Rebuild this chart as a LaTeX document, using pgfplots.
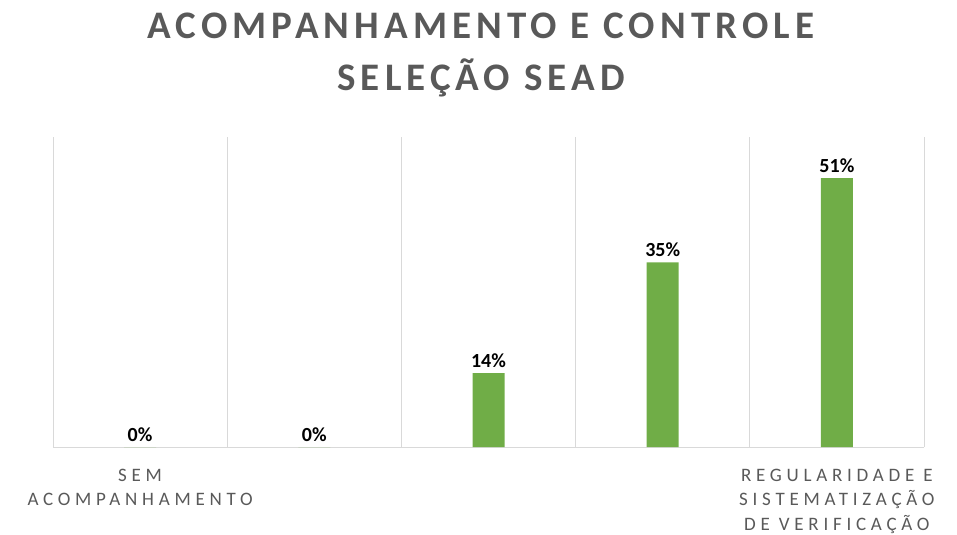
\documentclass[border=0pt]{standalone}
\usepackage{pgfplots}
\pgfplotsset{compat=1.18}
\usepackage{fontspec}
\setmainfont{Carlito}
\newfontfamily\titlefont[LetterSpace=13]{Carlito}
\newfontfamily\labfont[LetterSpace=25]{Carlito}
\definecolor{bargreen}{HTML}{70AD47}
\definecolor{txtgray}{HTML}{595959}
\definecolor{gridgray}{HTML}{D9D9D9}

\begin{document}
\begin{tikzpicture}
\useasboundingbox (0,0) rectangle (957bp,-535bp);
% chart title, two lines
\node[anchor=base, inner sep=0pt, text=txtgray,
      font=\titlefont\bfseries\fontsize{39bp}{52bp}\selectfont]
  at (481bp,-38bp) {ACOMPANHAMENTO E CONTROLE};
\node[anchor=base, inner sep=0pt, text=txtgray,
      font=\titlefont\bfseries\fontsize{39bp}{52bp}\selectfont]
  at (481bp,-90bp) {SELEÇÃO SEAD};

\begin{axis}[
    at={(53bp,-447bp)}, anchor=south west,
    scale only axis,
    width=871bp, height=310bp,
    xmin=-0.5, xmax=4.5,
    ymin=0, ymax=58.8,
    hide y axis,
    axis x line*=bottom,
    x axis line style={-, draw=gridgray, line width=1bp},
    xtick={0,4},
    xticklabels={SEM\\ACOMPANHAMENTO, REGULARIDADE E\\SISTEMATIZAÇÃO\\DE VERIFICAÇÃO},
    xticklabel style={font=\labfont\fontsize{19bp}{24.5bp}\selectfont, text=txtgray,
        align=center, anchor=north, inner sep=0pt, yshift=-21.5bp},
    minor xtick={-0.5,0.5,...,4.5},
    xminorgrids,
    minor grid style={draw=gridgray, line width=1bp},
    major tick length=0pt, minor tick length=0pt,
    ybar, bar width=32bp,
    nodes near coords={\pgfmathprintnumber[assume math mode=true]{\pgfplotspointmeta}\%},
    nodes near coords style={font=\bfseries\fontsize{20bp}{24bp}\selectfont,
        text=black, anchor=base, inner sep=0pt, yshift=6bp},
    clip=false,
]
\addplot[fill=bargreen, draw=none] coordinates {
    (0,0) (1,0) (2,14) (3,35) (4,51)
};
\end{axis}
\end{tikzpicture}
\end{document}
